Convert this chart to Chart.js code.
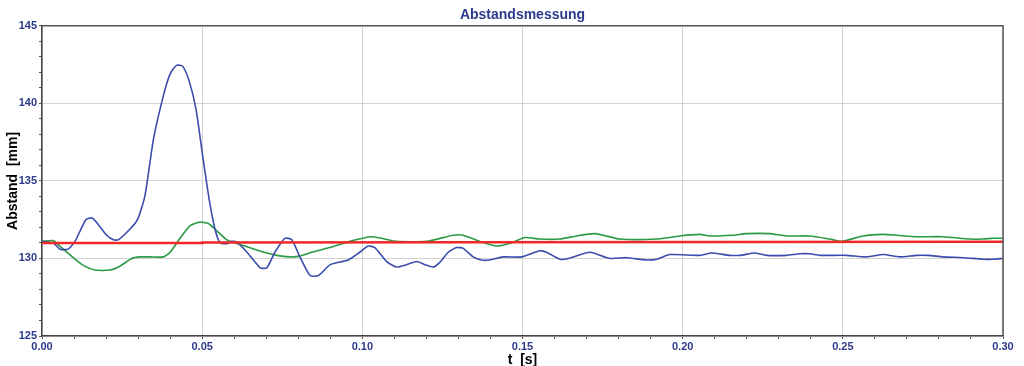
<!DOCTYPE html>
<html>
<head>
<meta charset="utf-8">
<script src="https://cdn.jsdelivr.net/npm/chart.js@4/dist/chart.umd.min.js"></script>
<style>
    html, body { margin: 0; padding: 0; background: #fff; }
    #wrap { width: 1024px; height: 366px; }
</style>
</head>
<body>
<div id="wrap"><canvas id="chart" width="1024" height="366"></canvas></div>
<script>
(function () {
    "use strict";

    var xMin = 0, xMax = 0.30, xStep = 0.01;
    var yMin = 125, yMax = 145, yStep = 1;

    // blue measurement
    var blueT = [
        0, 0.0035, 0.0056, 0.0082, 0.0103, 0.0137, 0.0158, 0.0202, 0.0223, 0.0238,
        0.0275, 0.0298, 0.0321, 0.0348, 0.0379, 0.040, 0.042, 0.0439, 0.046, 0.0481,
        0.0503, 0.0522, 0.054, 0.0556, 0.0577, 0.0592, 0.0608, 0.064, 0.0681, 0.0702,
        0.0727, 0.0758, 0.078, 0.0805, 0.0837, 0.0863, 0.09, 0.0956, 0.0992, 0.1018,
        0.1039, 0.1076, 0.1107, 0.1138, 0.117, 0.1195, 0.1221, 0.1242, 0.1268, 0.1294,
        0.1315, 0.1346, 0.1372, 0.1398, 0.144, 0.1497, 0.1554, 0.1575, 0.1617, 0.1643,
        0.171, 0.1773, 0.1825, 0.1887, 0.1919, 0.196, 0.2054, 0.209, 0.2147, 0.2179,
        0.2225, 0.2262, 0.2324, 0.2366, 0.2397, 0.2428, 0.2511, 0.2574, 0.2626, 0.2678,
        0.273, 0.2766, 0.2813, 0.2876, 0.2938, 0.297, 0.30
    ];
    var blueV = [
        131.1, 131.0, 130.6, 130.6, 131.1, 132.5, 132.6, 131.5, 131.2, 131.2,
        131.9, 132.5, 134.0, 137.7, 140.5, 141.9, 142.45, 142.4, 141.4, 139.6,
        136.4, 133.8, 131.9, 131.0, 130.95, 131.1, 131.05, 130.4, 129.4, 129.4,
        130.4, 131.3, 131.2, 130.1, 128.9, 128.9, 129.6, 129.9, 130.4, 130.8,
        130.7, 129.8, 129.45, 129.6, 129.8, 129.6, 129.45, 129.75, 130.4, 130.7,
        130.65, 130.1, 129.9, 129.9, 130.1, 130.1, 130.5, 130.4, 129.95, 130.0,
        130.4, 130.0, 130.05, 129.9, 129.95, 130.25, 130.2, 130.35, 130.2, 130.2,
        130.35, 130.2, 130.2, 130.3, 130.3, 130.2, 130.2, 130.1, 130.25, 130.1,
        130.2, 130.2, 130.1, 130.05, 129.95, 129.95, 130.0
    ];

    // green measurement
    var greenT = [
        0, 0.0035, 0.0061, 0.0098, 0.0129, 0.0165, 0.0212, 0.0243, 0.028, 0.0306,
        0.0337, 0.0379, 0.040, 0.0431, 0.0462, 0.0493, 0.0519, 0.0545, 0.0577, 0.0618,
        0.067, 0.0733, 0.0774, 0.0805, 0.0842, 0.0899, 0.0961, 0.1024, 0.106, 0.1107,
        0.12, 0.1284, 0.1315, 0.1367, 0.1419, 0.1471, 0.1507, 0.1554, 0.1617, 0.1669,
        0.1726, 0.1804, 0.1919, 0.1991, 0.2054, 0.2085, 0.2158, 0.2199, 0.2272, 0.2324,
        0.2397, 0.2459, 0.2496, 0.2563, 0.2626, 0.2667, 0.273, 0.2813, 0.2897, 0.2938,
        0.297, 0.30
    ];
    var greenV = [
        131.1, 131.15, 130.7, 130.05, 129.55, 129.25, 129.25, 129.5, 130.0, 130.1,
        130.1, 130.1, 130.4, 131.3, 132.1, 132.35, 132.25, 131.8, 131.2, 130.9,
        130.55, 130.2, 130.1, 130.15, 130.4, 130.7, 131.1, 131.4, 131.3, 131.1,
        131.1, 131.5, 131.5, 131.1, 130.8, 131.05, 131.35, 131.25, 131.25, 131.45,
        131.6, 131.25, 131.25, 131.45, 131.55, 131.45, 131.5, 131.6, 131.6, 131.45,
        131.45, 131.25, 131.1, 131.45, 131.55, 131.5, 131.4, 131.4, 131.25, 131.25,
        131.3, 131.3
    ];

    // red reference
    var redT = [0, 0.05, 0.0501, 0.30];
    var redV = [131.0, 131.0, 131.03, 131.08];

    var labelBlue = "#2b3a8c";

    function toPoints(ts, vs) {
        return ts.map(function (t, i) { return { x: t, y: vs[i] }; });
    }

    function isMajorX(v) { return Math.round(v * 100) % 5 === 0; }
    function isMajorY(v) { return Math.round(v) % 5 === 0; }

    // draws the top and right edge of the plot frame
    var framePlugin = {
        id: "frame",
        afterDraw: function (chart) {
            var a = chart.chartArea;
            var c = chart.ctx;
            c.save();
            c.strokeStyle = "#555";
            c.lineWidth = 1.5;
            c.beginPath();
            c.moveTo(a.left, a.top);
            c.lineTo(a.right, a.top);
            c.lineTo(a.right, a.bottom);
            c.stroke();
            c.restore();
        }
    };

    var ctx = document.getElementById("chart").getContext("2d");
    new Chart(ctx, {
        type: "line",
        data: {
            datasets: [
                {
                    label: "Soll",
                    data: toPoints(redT, redV),
                    borderColor: "#f02828",
                    borderWidth: 2.6,
                    pointRadius: 0,
                    tension: 0
                },
                {
                    label: "Messung 1",
                    data: toPoints(blueT, blueV),
                    borderColor: "#3a4dab",
                    borderWidth: 1.6,
                    pointRadius: 0,
                    tension: 0.2
                },
                {
                    label: "Messung 2",
                    data: toPoints(greenT, greenV),
                    borderColor: "#2a9a45",
                    borderWidth: 1.6,
                    pointRadius: 0,
                    tension: 0.2
                }
            ]
        },
        options: {
            responsive: false,
            animation: false,
            layout: { padding: { left: 0, right: 21, top: 0, bottom: 0 } },
            plugins: {
                legend: { display: false },
                tooltip: { enabled: false },
                title: {
                    display: true,
                    fullSize: false,
                    text: "Abstandsmessung",
                    color: labelBlue,
                    font: { family: "Liberation Sans", size: 14, weight: "bold" },
                    padding: { top: 7, bottom: 2 }
                }
            },
            scales: {
                x: {
                    type: "linear",
                    min: xMin,
                    max: xMax,
                    afterFit: function (s) { s.height = 30; },
                    ticks: {
                        stepSize: xStep,
                        autoSkip: false,
                        maxRotation: 0,
                        padding: 1,
                        color: labelBlue,
                        font: { family: "Liberation Sans", size: 11, weight: "bold" },
                        callback: function (v) { return isMajorX(v) ? v.toFixed(2) : ""; }
                    },
                    grid: {
                        color: function (c) { return isMajorX(c.tick.value) ? "#d2d2d2" : "rgba(0,0,0,0)"; },
                        tickColor: "#555",
                        tickLength: 3
                    },
                    border: { color: "#444", width: 1.5 },
                    title: {
                        display: true,
                        text: "t  [s]",
                        color: "#000",
                        font: { family: "Liberation Sans", size: 14, weight: "bold" },
                        padding: { top: 0, bottom: -3 }
                    }
                },
                y: {
                    type: "linear",
                    min: yMin,
                    max: yMax,
                    afterFit: function (s) { s.width = 42; },
                    ticks: {
                        stepSize: yStep,
                        autoSkip: false,
                        padding: 2,
                        color: labelBlue,
                        font: { family: "Liberation Sans", size: 11, weight: "bold" },
                        callback: function (v) { return isMajorY(v) ? String(v) : ""; }
                    },
                    grid: {
                        color: function (c) { return isMajorY(c.tick.value) ? "#d2d2d2" : "rgba(0,0,0,0)"; },
                        tickColor: "#555",
                        tickLength: 3
                    },
                    border: { color: "#444", width: 1.5 },
                    title: {
                        display: true,
                        text: "Abstand  [mm]",
                        color: "#000",
                        font: { family: "Liberation Sans", size: 14, weight: "bold" },
                        padding: { top: 5, bottom: 0 }
                    }
                }
            }
        },
        plugins: [framePlugin]
    });
})();
</script>
</body>
</html>
